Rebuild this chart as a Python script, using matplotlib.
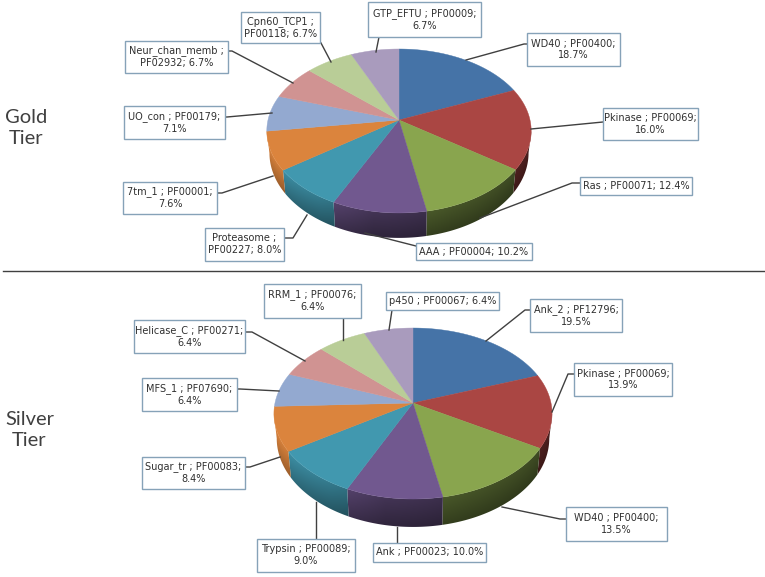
import matplotlib
matplotlib.use("Agg")
import matplotlib.pyplot as plt
from matplotlib.patches import Rectangle, Polygon
from matplotlib.colors import to_rgb
import numpy as np

# data
gold_names = ["WD40", "Pkinase", "Ras", "AAA", "Proteasome", "7tm_1", "UO_con",
              "Neur_chan_memb", "Cpn60_TCP1", "GTP_EFTU"]
gold_pfam = ["PF00400", "PF00069", "PF00071", "PF00004", "PF00227", "PF00001", "PF00179",
             "PF02932", "PF00118", "PF00009"]
gold_share = [18.7, 16.0, 12.4, 10.2, 8.0, 7.6, 7.1, 6.7, 6.7, 6.7]

silver_names = ["Ank_2", "Pkinase", "WD40", "Ank", "Trypsin", "Sugar_tr", "MFS_1",
                "Helicase_C", "RRM_1", "p450"]
silver_pfam = ["PF12796", "PF00069", "PF00400", "PF00023", "PF00089", "PF00083", "PF07690",
               "PF00271", "PF00076", "PF00067"]
silver_share = [19.5, 13.9, 13.5, 10.0, 9.0, 8.4, 6.4, 6.4, 6.4, 6.4]

colors = ["#4573a7", "#aa4643", "#89a54e", "#71588f", "#4198af",
          "#db843d", "#93a9d0", "#d09392", "#b9cd97", "#a99bbd"]

# label boxes (x0, y0, x1, y1), where the text wraps, leader line points
# wrap: 0 = one line, 1 = after the name, 2 = after the pfam id
gold_boxes = [
    ((527, 33, 620, 66), 2, [(466, 60), (524, 44), (527, 44)]),
    ((603, 108, 698, 140), 2, [(531, 129), (603, 122)]),
    ((580, 177, 692, 195), 0, [(480, 218), (572, 183), (580, 183)]),
    ((416, 243, 532, 260), 0, [(365, 233), (416, 246)]),
    ((205, 228, 284, 261), 1, [(307, 215), (293, 238), (284, 238)]),
    ((123, 182, 217, 214), 2, [(273, 176), (222, 193), (217, 193)]),
    ((124, 106, 225, 139), 2, [(272, 113), (227, 117), (225, 117)]),
    ((125, 41, 228, 73), 1, [(293, 83), (232, 51), (228, 51)]),
    ((241, 12, 320, 43), 1, [(331, 62), (321, 43)]),
    ((368, 2, 481, 37), 2, [(376, 52), (379, 37)]),
]
silver_boxes = [
    ((530, 299, 622, 332), 2, [(486, 341), (525, 310), (530, 310)]),
    ((574, 363, 672, 396), 2, [(552, 412), (568, 374), (574, 374)]),
    ((566, 507, 667, 541), 2, [(502, 507), (560, 519), (566, 519)]),
    ((373, 543, 486, 562), 0, [(397, 527), (397, 543)]),
    ((257, 539, 355, 572), 2, [(316, 502), (316, 539)]),
    ((142, 457, 245, 489), 2, [(280, 457), (250, 467), (245, 467)]),
    ((142, 378, 237, 411), 2, [(279, 391), (240, 389), (237, 389)]),
    ((134, 320, 245, 353), 2, [(305, 361), (252, 332), (245, 332)]),
    ((264, 284, 361, 318), 2, [(343, 340), (343, 318)]),
    ((386, 292, 499, 310), 0, [(389, 330), (392, 310)]),
]


def project(theta, cx, cy, rx, ry, k):
    # disc seen in perspective, theta runs clockwise from the top
    u = np.sin(theta)
    v = np.cos(theta)
    s = 1 / (1 + k * v)
    return cx + rx * u * s, cy - ry * v * s, s


def draw_wall(ax, col, th, cx, cy, rx, ry, k, depth):
    # side wall of one slice, a gradient picture clipped to the wall outline
    th = th[np.cos(th) < -k]
    if len(th) < 2:
        return
    x, y, s = project(th, cx, cy, rx, ry, k)
    bx = cx + (x - cx) * 0.98
    by = y + depth * s
    px = np.r_[x, bx[::-1]]
    py = np.r_[y, by[::-1]]

    xs = np.arange(px.min() - 1, px.max() + 2, 0.5)
    ys = np.arange(py.min() - 1, py.max() + 2, 0.5)
    xx, yy = np.meshgrid(xs, ys)
    order = np.argsort(x)
    top = np.interp(xx, x[order], y[order])
    d = np.clip((yy - top) / (depth * 1.1), 0, 1)
    pos = (xx - (cx - rx)) / (2 * rx)
    f = np.interp(pos, [0, 0.1, 0.2, 0.4, 0.7, 1], [0.92, 0.82, 0.75, 0.55, 0.47, 0.42])
    f = f * (1.08 - 0.3 * d)
    img = np.clip(np.dstack([c * f for c in to_rgb(col)]), 0, 1)
    im = ax.imshow(img, extent=(xs[0], xs[-1], ys[-1], ys[0]), aspect="auto", zorder=2)
    clip = Polygon(np.c_[px, py], closed=True, transform=ax.transData)
    im.set_clip_path(clip)


def draw_pie(ax, share, names, pfam, boxes, cx, cy, rx, ry, k, depth):
    edges = np.cumsum([0] + share) / sum(share) * 2 * np.pi

    for i in range(len(share)):
        th = np.linspace(edges[i], edges[i + 1], 120)
        draw_wall(ax, colors[i], th, cx, cy, rx, ry, k, depth)

    for i in range(len(share)):
        th = np.linspace(edges[i], edges[i + 1], 80)
        x, y, s = project(th, cx, cy, rx, ry, k)
        ax.fill(np.r_[cx, x], np.r_[cy, y], color=colors[i], lw=0.3, zorder=3)

    for i in range(len(share)):
        (x0, y0, x1, y1), wrap, line = boxes[i]
        lx = [p[0] for p in line]
        ly = [p[1] for p in line]
        ax.plot(lx, ly, color="#404040", lw=1, zorder=4)
        ax.add_patch(Rectangle((x0, y0), x1 - x0, y1 - y0, facecolor="white",
                               edgecolor="#86a2b8", lw=1, zorder=5))
        first = names[i] + " ; "
        rest = pfam[i] + "; " + "%.1f%%" % share[i]
        if wrap == 1:
            txt = first.rstrip() + "\n" + rest
        elif wrap == 2:
            txt = first + pfam[i] + ";\n" + "%.1f%%" % share[i]
        else:
            txt = first + rest
        ax.text((x0 + x1) / 2, (y0 + y1) / 2, txt, ha="center", va="center",
                fontsize=7, family="DejaVu Sans", color="#303030", linespacing=1.25, zorder=6)


fig = plt.figure(figsize=(7.65, 5.77), dpi=100)
ax = fig.add_axes([0, 0, 1, 1])
ax.set_xlim(0, 765)
ax.set_ylim(577, 0)
ax.autoscale(False)
ax.axis("off")

draw_pie(ax, gold_share, gold_names, gold_pfam, gold_boxes, 399, 120, 131, 80.5, 0.134, 21.6)
draw_pie(ax, silver_share, silver_names, silver_pfam, silver_boxes, 413, 403, 138, 84.2, 0.123, 24.5)

ax.plot([3, 765], [271, 271], color="#404040", lw=1)

ax.text(26, 128, "Gold\nTier", ha="center", va="center", fontsize=14.5, family="Lato",
        color="#404040", linespacing=1.3)
ax.text(29.5, 430, "Silver\nTier", ha="center", va="center", fontsize=14.5, family="Lato",
        color="#404040", linespacing=1.3)

plt.savefig("out.png", dpi=100)
